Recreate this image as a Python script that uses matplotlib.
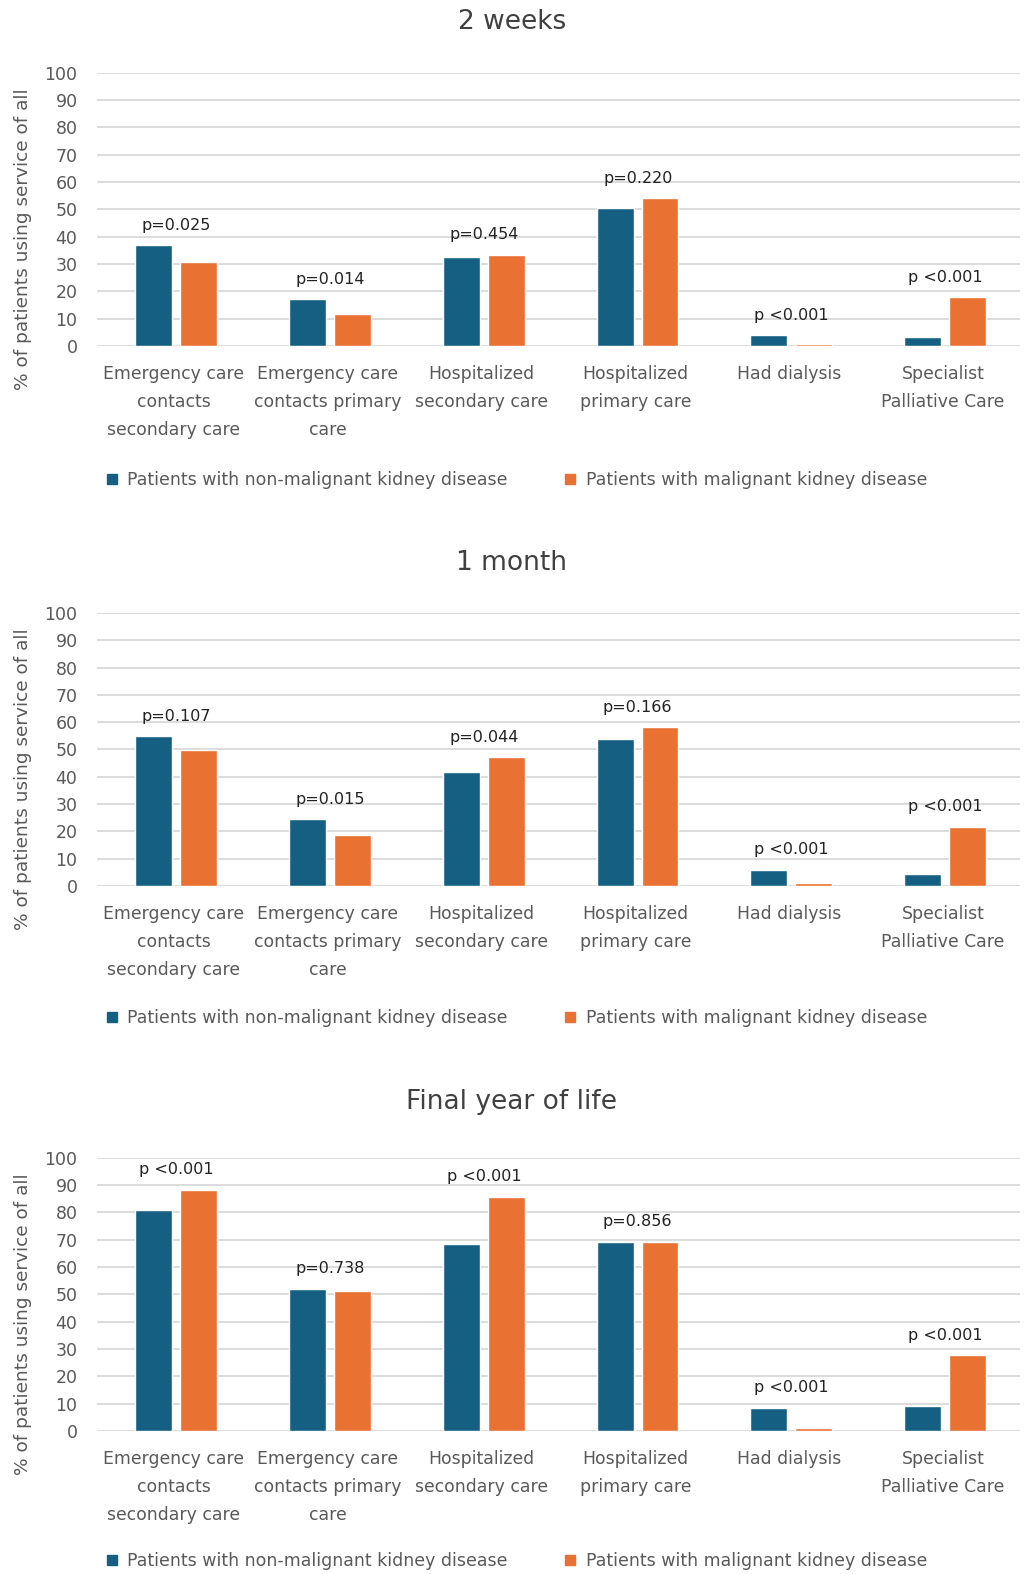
import matplotlib
matplotlib.use("Agg")
import matplotlib.pyplot as plt
from matplotlib.lines import Line2D
import numpy as np

# categories shared by the three panels
categories = [
    "Emergency care\ncontacts\nsecondary care",
    "Emergency care\ncontacts primary\ncare",
    "Hospitalized\nsecondary care",
    "Hospitalized\nprimary care",
    "Had dialysis",
    "Specialist\nPalliative Care",
]
series_names = ["Patients with non-malignant kidney disease",
                "Patients with malignant kidney disease"]
panel_titles = ["2 weeks", "1 month", "Final year of life"]

# values (% of patients)
non_malignant_2w = [36.8, 17.1, 32.6, 50.5, 4.0, 3.4]
malignant_2w = [30.7, 11.6, 33.4, 54.0, 0.7, 17.8]
pvals_2w = ["p=0.025", "p=0.014", "p=0.454", "p=0.220", "p <0.001", "p <0.001"]

non_malignant_1m = [54.8, 24.4, 41.7, 54.0, 5.9, 4.4]
malignant_1m = [49.9, 18.8, 47.2, 58.2, 1.0, 21.7]
pvals_1m = ["p=0.107", "p=0.015", "p=0.044", "p=0.166", "p <0.001", "p <0.001"]

non_malignant_1y = [80.9, 52.1, 68.5, 69.3, 8.4, 9.2]
malignant_1y = [88.4, 51.4, 85.7, 69.3, 1.2, 27.7]
pvals_1y = ["p <0.001", "p=0.738", "p <0.001", "p=0.856", "p <0.001", "p <0.001"]

blue = "#156082"
orange = "#E97132"
grey = "#595959"

fig = plt.figure(figsize=(10.24, 15.74), dpi=100)

# (axes bottom, title y, legend y) in figure fractions
layout = [(0.7802, 0.986, 0.695), (0.4371, 0.6423, 0.353), (0.0909, 0.2999, 0.008)]
panels = [
    (non_malignant_2w, malignant_2w, pvals_2w),
    (non_malignant_1m, malignant_1m, pvals_1m),
    (non_malignant_1y, malignant_1y, pvals_1y),
]

x = np.arange(len(categories))
w = 0.24

for (bottom, ty, ly), (nm, m, pv), title in zip(layout, panels, panel_titles):
    ax = fig.add_axes([0.0947, bottom, 0.9014, 0.1735])
    ax.bar(x - 0.132, nm, w, color=blue, edgecolor="white", linewidth=1.0, zorder=3)
    ax.bar(x + 0.160, m, w, color=orange, edgecolor="white", linewidth=1.0, zorder=3)

    for xi, a, b, p in zip(x, nm, m, pv):
        ax.annotate(p, (xi + 0.015, max(a, b)), xytext=(0, 9), textcoords="offset points",
                    ha="center", va="bottom", fontsize=11.5, color="#222222")

    ax.set_xlim(-0.5, len(categories) - 0.5)
    ax.set_ylim(0, 100)
    ax.set_yticks(range(0, 101, 10))
    ax.grid(axis="y", color="#d9d9d9", linewidth=1.3, zorder=0)
    for s in ax.spines.values():
        s.set_visible(False)
    ax.set_xticks(x)
    ax.set_xticklabels(categories, fontsize=12.4, color=grey, linespacing=1.7)
    ax.tick_params(axis="x", length=0, pad=14)
    ax.tick_params(axis="y", length=0, pad=14, labelsize=12.5, labelcolor=grey)
    ax.set_ylabel("% of patients using service of all", fontsize=13.3, color=grey)
    ax.yaxis.set_label_coords(-0.07, 0.39)

    fig.text(0.5, ty, title, ha="center", va="center", fontsize=19, color="#404040")

    handles = [Line2D([], [], marker="s", linestyle="", color=blue, markersize=7),
               Line2D([], [], marker="s", linestyle="", color=orange, markersize=7)]
    fig.legend(handles, series_names, loc="center", bbox_to_anchor=(0.499, ly),
               ncol=2, frameon=False, fontsize=12.5, labelcolor=grey,
               handletextpad=-0.1, columnspacing=2.6)

fig.savefig("out.png", dpi=100)
